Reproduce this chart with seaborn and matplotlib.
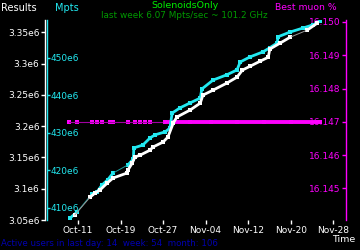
import matplotlib
matplotlib.use("Agg")
import matplotlib.pyplot as plt
import matplotlib.dates as mdates
import matplotlib.ticker as mticker
import numpy as np
import pandas as pd
import seaborn as sns

# ---- data ----
results_dates = ["2023-10-10 10:00", "2023-10-13 07:00", "2023-10-14 05:00", "2023-10-15 03:00",
                 "2023-10-16 12:00", "2023-10-17 14:00", "2023-10-20 05:00", "2023-10-20 10:00",
                 "2023-10-21 05:00", "2023-10-21 17:00", "2023-10-22 17:00", "2023-10-24 14:00",
                 "2023-10-25 02:00", "2023-10-27 00:00", "2023-10-27 22:00", "2023-10-28 22:00",
                 "2023-10-29 14:00", "2023-11-01 02:00", "2023-11-03 00:00", "2023-11-03 12:00",
                 "2023-11-05 10:00", "2023-11-08 00:00", "2023-11-09 22:00", "2023-11-10 22:00",
                 "2023-11-12 10:00", "2023-11-14 07:00", "2023-11-15 19:00", "2023-11-16 02:00",
                 "2023-11-18 00:00", "2023-11-19 22:00", "2023-11-23 02:00", "2023-11-25 00:00"]
results_values = [3.058e6, 3.0867e6, 3.0931e6, 3.0979e6, 3.109e6, 3.117e6, 3.125e6, 3.130e6,
                  3.141e6, 3.1506e6, 3.1537e6, 3.1617e6, 3.1665e6, 3.1745e6, 3.1825e6, 3.2048e6,
                  3.2144e6, 3.2256e6, 3.2367e6, 3.2495e6, 3.2575e6, 3.2687e6, 3.2782e6, 3.2894e6,
                  3.2958e6, 3.3038e6, 3.310e6, 3.323e6, 3.3325e6, 3.342e6, 3.3532e6, 3.3644e6]

mpts_dates = ["2023-10-09 12:00", "2023-10-10 19:00", "2023-10-13 14:00", "2023-10-14 14:00",
              "2023-10-15 12:00", "2023-10-16 14:00", "2023-10-17 14:00", "2023-10-20 10:00",
              "2023-10-21 10:00", "2023-10-21 12:00", "2023-10-23 05:00", "2023-10-24 14:00",
              "2023-10-25 12:00", "2023-10-27 10:00", "2023-10-28 07:00", "2023-10-28 17:00",
              "2023-10-30 05:00", "2023-11-01 02:00", "2023-11-03 00:00", "2023-11-03 07:00",
              "2023-11-05 10:00", "2023-11-08 00:00", "2023-11-09 22:00", "2023-11-10 12:00",
              "2023-11-12 10:00", "2023-11-14 19:00", "2023-11-16 02:00", "2023-11-17 12:00",
              "2023-11-17 14:00", "2023-11-19 22:00", "2023-11-22 10:00", "2023-11-24 05:00",
              "2023-11-25 14:00"]
mpts_values = [407.3e6, 408.9e6, 413.7e6, 414.3e6, 416.1e6, 417.5e6, 419.3e6, 421.5e6,
               423.1e6, 426.0e6, 426.8e6, 428.7e6, 429.5e6, 430.3e6, 431.3e6, 435.3e6,
               436.7e6, 438.0e6, 439.3e6, 441.7e6, 444.1e6, 445.5e6, 446.8e6, 448.9e6,
               450.3e6, 451.6e6, 452.7e6, 454.0e6, 455.6e6, 456.9e6, 458.0e6, 458.8e6,
               459.9e6]

muon_dates = ["2023-10-09 07:00", "2023-10-10 19:00", "2023-10-13 14:00", "2023-10-14 14:00",
              "2023-10-15 12:00", "2023-10-17 00:00", "2023-10-17 14:00", "2023-10-20 10:00",
              "2023-10-21 17:00", "2023-10-22 17:00", "2023-10-23 14:00", "2023-10-24 14:00",
              "2023-10-27 10:00", "2023-11-01 00:00", "2023-11-05 00:00", "2023-11-10 00:00",
              "2023-11-15 00:00", "2023-11-20 00:00", "2023-11-25 14:00"]
muon_values = [16.147] * len(muon_dates)
muon_dense_from = "2023-10-27 00:00"

left_ticks = [3.05e6, 3.10e6, 3.15e6, 3.20e6, 3.25e6, 3.30e6, 3.35e6]
left_labels = ["3.05e6", "3.1e6", "3.15e6", "3.2e6", "3.25e6", "3.3e6", "3.35e6"]
mpts_ticks = [410e6, 420e6, 430e6, 440e6, 450e6]
mpts_labels = ["410e6", "420e6", "430e6", "440e6", "450e6"]
muon_ticks = [16.145, 16.146, 16.147, 16.148, 16.149, 16.150]
muon_labels = ["16.145", "16.146", "16.147", "16.148", "16.149", "16.150"]
x_ticks = ["2023-10-11", "2023-10-19", "2023-10-27", "2023-11-04", "2023-11-12", "2023-11-20", "2023-11-28"]

res = pd.DataFrame({"t": pd.to_datetime(results_dates), "v": results_values})
mp = pd.DataFrame({"t": pd.to_datetime(mpts_dates), "v": mpts_values})
mu = pd.DataFrame({"t": pd.to_datetime(muon_dates), "v": muon_values})

# ---- style ----
sns.set_style("dark", {"axes.facecolor": "black", "figure.facecolor": "black"})
plt.rcParams["font.family"] = ["DejaVu Sans"]
FS = 6.5

fig = plt.figure(figsize=(3.6, 2.5), dpi=100)
fig.patch.set_facecolor("black")
ax = fig.add_axes([45/360, 30/250, 301/360, 200/250])
ax.set_facecolor("black")
ax2 = ax.twinx()
ax3 = ax.twinx()

xmin = pd.Timestamp("2023-10-04 19:00")
xmax = pd.Timestamp("2023-11-30 10:00")


def draw_series(a, df, thin_color, color, ms):
    sns.lineplot(data=df, x="t", y="v", ax=a, color=thin_color, linewidth=0.7, legend=False)
    # thick where points are close in time
    d = df["t"].diff().dt.total_seconds() / 86400
    for i in range(1, len(df)):
        if d.iloc[i] <= 2.7:
            seg = df.iloc[i-1:i+1]
            sns.lineplot(data=seg, x="t", y="v", ax=a, color=color, linewidth=2.0,
                         legend=False, sort=False)
    sns.scatterplot(data=df, x="t", y="v", ax=a, color=color, s=ms, marker="s",
                    linewidth=0, legend=False)


# magenta (best muon)
sns.lineplot(data=mu, x="t", y="v", ax=ax3, color="#a000a0", linewidth=0.8, legend=False)
sns.scatterplot(data=mu, x="t", y="v", ax=ax3, color="#ff00ff", s=5, marker="s", linewidth=0, legend=False)
dense = mu[mu["t"] >= pd.Timestamp(muon_dense_from)]
sns.lineplot(data=dense, x="t", y="v", ax=ax3, color="#ff00ff", linewidth=2.8, legend=False)

draw_series(ax, res, "#9a9a9a", "white", 5)
draw_series(ax2, mp, "#1a9a9a", "#22e8f0", 5)

for a in (ax, ax2, ax3):
    a.set_xlim(xmin, xmax)
    a.set_xlabel("")
    a.set_ylabel("")
    a.set_facecolor("none")
    a.grid(False)
    for s in a.spines.values():
        s.set_visible(False)

ax.set_zorder(3); ax2.set_zorder(2); ax3.set_zorder(1)
fig.patch.set_facecolor("black")

# left axis (Results)
ax.set_ylim(3.05e6, 3.3695e6)
ax.spines["left"].set_visible(True)
ax.spines["left"].set_color("white")
ax.spines["left"].set_linewidth(1)
ax.yaxis.set_major_locator(mticker.FixedLocator(left_ticks))
ax.set_yticklabels(left_labels)
ax.tick_params(axis="y", colors="white", labelcolor="white", direction="out", length=3,
               width=1, pad=1, labelsize=FS, left=True)

# x axis
ax.xaxis.set_major_locator(mticker.FixedLocator(mdates.date2num(pd.to_datetime(x_ticks))))
ax.xaxis.set_major_formatter(mdates.DateFormatter("%b-%d"))
ax.tick_params(axis="x", colors="white", labelcolor="white", direction="out", length=3,
               width=1, pad=1, labelsize=FS, bottom=True)

# cyan axis (Mpts)
ax2.set_ylim(406.8e6, 460.1e6)
ax2.spines["right"].set_visible(True)
ax2.spines["right"].set_position(("axes", 0.008))
ax2.spines["right"].set_color("#22e8f0")
ax2.spines["right"].set_linewidth(1)
ax2.yaxis.set_major_locator(mticker.FixedLocator(mpts_ticks))
ax2.set_yticklabels(mpts_labels)
ax2.tick_params(axis="y", colors="#22e8f0", labelcolor="#22e8f0", direction="out", length=2,
                width=1, pad=0, labelsize=FS, right=True)
ax2.tick_params(axis="x", bottom=False, labelbottom=False)

# magenta axis (Best muon %)
ax3.set_ylim(16.14405, 16.15006)
ax3.spines["left"].set_visible(True)
ax3.spines["left"].set_position(("axes", 1.0))
ax3.spines["left"].set_color("#ff00ff")
ax3.spines["left"].set_linewidth(1)
ax3.yaxis.tick_left()
ax3.yaxis.set_major_locator(mticker.FixedLocator(muon_ticks))
ax3.set_yticklabels(muon_labels)
ax3.tick_params(axis="y", colors="#ff00ff", labelcolor="#ff00ff", direction="out", length=3,
                width=1, pad=1, labelsize=FS, left=True, right=False, labelright=False, labelleft=True)
ax3.tick_params(axis="x", bottom=False, labelbottom=False)

# texts
fig.text(1/360, 1 - 8/250, "Results", color="white", fontsize=7, va="center", ha="left")
fig.text(55/360, 1 - 8/250, "Mpts", color="#22e8f0", fontsize=7, va="center", ha="left")
fig.text(185/360, 1 - 6/250, "SolenoidsOnly", color="#00ee00", fontsize=6.8, va="center", ha="center")
fig.text(184/360, 1 - 16/250, "last week 6.07 Mpts/sec ~ 101.2 GHz", color="#009900",
         fontsize=6.4, va="center", ha="center")
fig.text(275/360, 1 - 8/250, "Best muon %", color="#ff00ff", fontsize=6.7, va="center", ha="left")
fig.text(355/360, 1 - 239/250, "Time", color="white", fontsize=6.8, va="center", ha="right")
fig.text(1/360, 1 - 244/250, "Active users in last day: 14  week: 54  month: 106", color="#0000b0",
         fontsize=6.2, va="center", ha="left")

fig.savefig("out.png", dpi=100, facecolor="black")
